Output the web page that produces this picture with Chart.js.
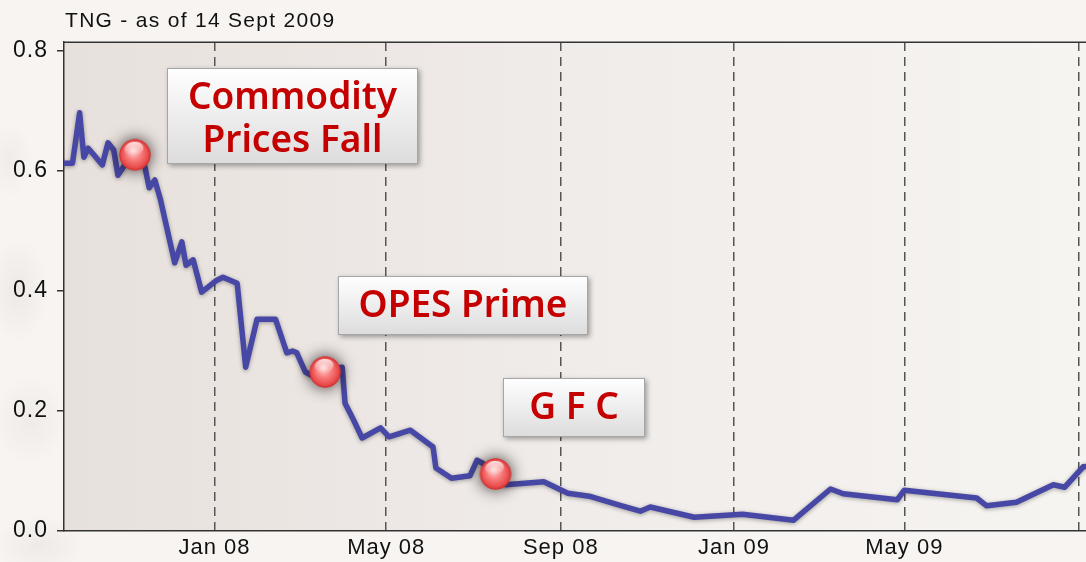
<!DOCTYPE html>
<html>
<head>
<meta charset="utf-8">
<script src="https://cdn.jsdelivr.net/npm/chart.js@4.4.0/dist/chart.umd.min.js"></script>
<style>
html,body{margin:0;padding:0;width:1086px;height:562px;overflow:hidden;}
body{
  background:
    radial-gradient(ellipse 40px 70px at 18px 290px, rgba(226,219,215,0.45), rgba(226,219,215,0) 75%),
    radial-gradient(ellipse 50px 60px at 30px 420px, rgba(228,221,217,0.4), rgba(228,221,217,0) 75%),
    radial-gradient(ellipse 60px 40px at 40px 545px, rgba(226,219,215,0.4), rgba(226,219,215,0) 75%),
    radial-gradient(ellipse 30px 50px at 10px 160px, rgba(228,221,217,0.35), rgba(228,221,217,0) 75%),
    #f7f4f1;
}
#wrap{position:relative;width:1086px;height:562px;}
canvas{display:block;width:1086px;height:562px;}
</style>
</head>
<body>
<div id="wrap"><canvas id="c" width="1086" height="562"></canvas></div>
<script>
// ---------------- data ----------------
const chartTitle = 'TNG - as of 14 Sept 2009';

const priceDates = [
  '2007-09-17','2007-09-23','2007-09-28','2007-10-01','2007-10-04','2007-10-08','2007-10-14','2007-10-18',
  '2007-10-22','2007-10-25','2007-11-01','2007-11-10','2007-11-13','2007-11-16','2007-11-20','2007-11-24',
  '2007-12-04','2007-12-09','2007-12-12','2007-12-17','2007-12-23','2008-01-02','2008-01-07','2008-01-17',
  '2008-01-23','2008-01-31','2008-02-13','2008-02-21','2008-02-25','2008-02-28','2008-03-05','2008-03-09',
  '2008-03-19','2008-03-31','2008-04-02','2008-04-08','2008-04-14','2008-04-27','2008-05-03','2008-05-18',
  '2008-06-03','2008-06-05','2008-06-16','2008-06-29','2008-07-04','2008-07-08','2008-07-17','2008-07-24',
  '2008-08-20','2008-09-06','2008-09-21','2008-10-14','2008-10-27','2008-11-03','2008-12-04','2009-01-07',
  '2009-02-12','2009-03-10','2009-03-19','2009-04-26','2009-05-01','2009-06-21','2009-06-28','2009-07-19',
  '2009-08-14','2009-08-22','2009-09-04','2009-09-14'
];
const priceValues = [
  0.613,0.613,0.697,0.623,0.638,0.627,0.610,0.647,
  0.635,0.593,0.618,0.627,0.607,0.572,0.585,0.552,
  0.447,0.482,0.443,0.452,0.398,0.417,0.423,0.413,
  0.273,0.353,0.353,0.297,0.300,0.297,0.265,0.260,
  0.267,0.273,0.213,0.185,0.155,0.172,0.157,0.168,
  0.140,0.105,0.088,0.092,0.118,0.113,0.088,0.077,
  0.082,0.063,0.058,0.042,0.033,0.040,0.023,0.028,
  0.018,0.070,0.062,0.052,0.068,0.055,0.042,0.048,
  0.077,0.073,0.107,0.110
];

const eventDates  = ['2007-11-06','2008-03-19','2008-07-17'];
const eventValues = [0.627, 0.265, 0.095];
const eventLabels = [['Commodity','Prices Fall'], ['OPES Prime'], ['G F C']];
const labelDates  = ['2008-02-25','2008-06-24','2008-09-10'];
const labelValues = [0.692, 0.376, 0.206];

const xTickDates  = ['2008-01-01','2008-05-01','2008-09-01','2009-01-01','2009-05-01','2009-09-01'];
const xTickLabels = ['Jan 08','May 08','Sep 08','Jan 09','May 09',''];
const yTickValues = [0, 0.2, 0.4, 0.6, 0.8];
const xRange = ['2007-09-17','2009-09-06'];
const yRange = [0, 0.815];

// ---------------- helpers ----------------
const EPOCH = Date.parse('2008-01-01');
const day = s => (Date.parse(s) - EPOCH) / 864e5;
const xTickDays = xTickDates.map(day);

const boxSizes = [[251, 96], [250, 59], [142, 59]];

function makeBall() {
  const c = document.createElement('canvas');
  c.width = 70; c.height = 70;
  const g = c.getContext('2d');
  const cx = 35, cy = 35, r = 15.5;
  g.save();
  g.shadowColor = 'rgba(20,10,10,0.85)';
  g.shadowBlur = 16;
  g.fillStyle = '#d03838';
  g.beginPath(); g.arc(cx, cy, r, 0, Math.PI * 2); g.fill();
  g.restore();
  const rg = g.createRadialGradient(cx - 2, cy - 4, 1, cx, cy, r);
  rg.addColorStop(0, '#ffd0d0');
  rg.addColorStop(0.45, '#f87d7d');
  rg.addColorStop(0.85, '#ea4c4c');
  rg.addColorStop(1, '#cf3030');
  g.fillStyle = rg;
  g.beginPath(); g.arc(cx, cy, r, 0, Math.PI * 2); g.fill();
  const gg = g.createLinearGradient(0, cy - r + 1, 0, cy);
  gg.addColorStop(0, 'rgba(255,255,255,0.9)');
  gg.addColorStop(1, 'rgba(255,255,255,0.05)');
  g.fillStyle = gg;
  g.beginPath(); g.ellipse(cx - 1, cy - 6, r * 0.62, r * 0.45, -0.15, 0, Math.PI * 2); g.fill();
  return c;
}
const ball = makeBall();

const SPACING = '1px';
const spacingPlugin = {
  id: 'spacing',
  beforeLayout(chart) { chart.ctx.letterSpacing = SPACING; },
  beforeDraw(chart) { chart.ctx.letterSpacing = SPACING; }
};

const decorPlugin = {
  id: 'decor',
  beforeDraw(chart) {
    const {ctx, chartArea: a} = chart;
    ctx.save();
    const lg = ctx.createLinearGradient(a.left, 0, a.right, 0);
    lg.addColorStop(0, '#e7e0dc');
    lg.addColorStop(0.2, '#ebe5e2');
    lg.addColorStop(0.5, '#f0ece9');
    lg.addColorStop(1, '#f6f4f1');
    ctx.fillStyle = lg;
    ctx.fillRect(a.left, a.top, a.right - a.left, a.bottom - a.top);
    ctx.restore();
  },
  afterDraw(chart) {
    const {ctx, chartArea: a, scales: {x, y}} = chart;
    ctx.save();
    // top border
    ctx.strokeStyle = '#333';
    ctx.lineWidth = 1.5;
    ctx.beginPath(); ctx.moveTo(a.left, a.top + 0.25); ctx.lineTo(a.right, a.top + 0.25); ctx.stroke();
    // title
    ctx.letterSpacing = '1.3px';
    ctx.fillStyle = '#111';
    ctx.font = '21px "Liberation Sans", Arial, sans-serif';
    ctx.textBaseline = 'alphabetic';
    ctx.textAlign = 'left';
    ctx.fillText(chartTitle, a.left + 1, 27);
    // annotation boxes
    ctx.letterSpacing = '0px';
    labelDates.forEach((d, i) => {
      const cx = x.getPixelForValue(day(d));
      const cy = y.getPixelForValue(labelValues[i]);
      const [w, h] = boxSizes[i];
      const x0 = Math.round(cx - w / 2), y0 = Math.round(cy - h / 2);
      ctx.save();
      ctx.shadowColor = 'rgba(0,0,0,0.35)';
      ctx.shadowBlur = 5; ctx.shadowOffsetX = 2; ctx.shadowOffsetY = 2;
      const bg = ctx.createLinearGradient(0, y0, 0, y0 + h);
      bg.addColorStop(0, '#ffffff');
      bg.addColorStop(1, '#dcdcdc');
      ctx.fillStyle = bg;
      ctx.fillRect(x0, y0, w, h);
      ctx.restore();
      ctx.strokeStyle = '#a6a6a6';
      ctx.lineWidth = 1;
      ctx.strokeRect(x0 + 0.5, y0 + 0.5, w - 1, h - 1);
      const lines = eventLabels[i];
      ctx.fillStyle = '#c40000';
      ctx.font = '600 37px "Noto Sans", sans-serif';
      ctx.textAlign = 'center';
      ctx.textBaseline = 'alphabetic';
      const mid = y0 + h / 2;
      const gap = 43;
      const off = lines.length > 1 ? 14 : 11;
      lines.forEach((t, k) => {
        const by = mid + off + (k - (lines.length - 1) / 2) * gap;
        ctx.fillText(t, x0 + w / 2, by);
      });
    });
    ctx.restore();
  }
};

const shadowPlugin = {
  id: 'lineShadow',
  beforeDatasetDraw(chart, args) {
    if (args.index !== 1) return;
    const ctx = chart.ctx;
    ctx.save();
    ctx.shadowColor = 'rgba(0,0,0,0.35)';
    ctx.shadowBlur = 4;
    ctx.shadowOffsetY = 1;
  },
  afterDatasetDraw(chart, args) {
    if (args.index !== 1) return;
    chart.ctx.restore();
  }
};

const tickFont = {family: '"Liberation Sans", Arial, sans-serif', size: 22};
const yTickFont = {family: '"Liberation Sans", Arial, sans-serif', size: 23};

new Chart(document.getElementById('c'), {
  type: 'line',
  data: {
    datasets: [
      {
        type: 'scatter',
        data: eventDates.map((d, i) => ({x: day(d), y: eventValues[i]})),
        pointStyle: ball,
        pointRadius: 15,
        showLine: false,
        order: 0,
        clip: false
      },
      {
        data: priceDates.map((d, i) => ({x: day(d), y: priceValues[i]})),
        borderColor: '#4747a6',
        borderWidth: 5.5,
        pointRadius: 0,
        tension: 0,
        borderJoinStyle: 'round',
        borderCapStyle: 'round',
        fill: false,
        order: 1
      }
    ]
  },
  options: {
    responsive: false,
    animation: false,
    devicePixelRatio: 1,
    layout: {autoPadding: false, padding: {top: 42, left: 0, right: 0, bottom: 0}},
    plugins: {legend: {display: false}, tooltip: {enabled: false}, title: {display: false}},
    scales: {
      x: {
        type: 'linear',
        min: day(xRange[0]),
        max: day(xRange[1]),
        afterBuildTicks: s => { s.ticks = xTickDays.map(v => ({value: v})); },
        afterFit: s => { s.height = 31; s.paddingLeft = 0; s.paddingRight = 0; },
        grid: {display: true, drawOnChartArea: true, drawTicks: false, color: '#555', lineWidth: 1.5},
        border: {display: true, color: '#333', width: 1.5, dash: [9, 6]},
        ticks: {
          autoSkip: false, maxRotation: 0, padding: 4, color: '#111', font: tickFont,
          callback: v => { const i = xTickDays.indexOf(v); return i >= 0 ? xTickLabels[i] : ''; }
        }
      },
      y: {
        min: yRange[0],
        max: yRange[1],
        afterBuildTicks: s => { s.ticks = yTickValues.map(v => ({value: v})); },
        afterFit: s => { s.width = 64; s.paddingTop = 0; s.paddingBottom = 0; },
        grid: {display: true, drawOnChartArea: false, drawTicks: true, tickLength: 7, color: '#333', lineWidth: 1.5},
        border: {display: true, color: '#333', width: 1.5},
        ticks: {padding: 9, color: '#111', font: yTickFont, callback: v => v.toFixed(1)}
      }
    }
  },
  plugins: [spacingPlugin, decorPlugin, shadowPlugin]
});
</script>
</body>
</html>
